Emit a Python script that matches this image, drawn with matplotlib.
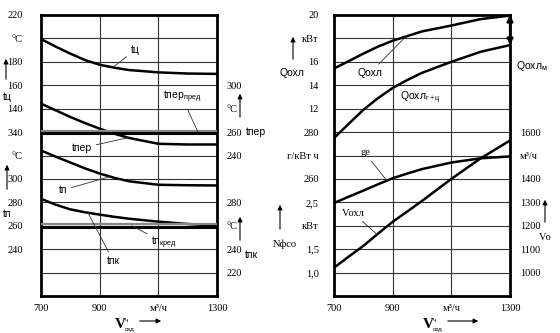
import numpy as np
import matplotlib
matplotlib.use('Agg')
import matplotlib.pyplot as plt

plt.rcParams['font.family'] = ['Liberation Sans', 'DejaVu Sans']
plt.rcParams['mathtext.fontset'] = 'custom'
plt.rcParams['mathtext.rm'] = 'Liberation Sans'
plt.rcParams['mathtext.it'] = 'Liberation Sans:italic'

# расход воздуха, м3/ч
V_air = [700, 750, 800, 850, 900, 950, 1000, 1100, 1200, 1300]

# левая панель, температуры, °C
t_c = [199.5, 193, 187, 181.5, 177.5, 175, 173, 171, 170, 169.7]         # tц
t_per = [284.3, 278.6, 272.9, 267.7, 262.9, 258.6, 255, 250, 249.4, 249.4]  # tпер
t_per_pred = 260
t_p = [324.3, 319, 314, 309, 304.6, 300.9, 298, 295, 294.6, 294.4]       # tп
t_pk = [283, 278, 274, 271.5, 269.5, 267.6, 266, 263.5, 261.5, 260]      # tпк
t_pk_pred = 260

# правая панель
Q_ohl = [15.43, 16.06, 16.7, 17.3, 17.8, 18.2, 18.6, 19.1, 19.65, 19.95]     # кВт
Q_ohl_gc = [9.49, 10.7, 11.9, 12.9, 13.77, 14.45, 15.06, 16.0, 16.86, 17.43]  # кВт
g_e = [249.7, 252.4, 255, 257.7, 260.3, 262.3, 264.2, 267, 268.8, 269.6]     # г/кВт ч
V_ohl = [1021, 1068, 1114, 1166, 1217, 1261, 1306, 1400, 1488, 1564]         # м3/ч

x_ticks = [700, 900, 1100, 1300]
x_labels = ['700', '900', 'м³/ч', '1300']

left_lab_L = ['220', '°C', '180', '160', '140', '340', '°C', '300', '280', '260', '240']
left_lab_R = {3: '300', 4: '°C', 5: '260', 6: '240', 8: '280', 9: '°C', 10: '240', 11: '220'}
right_lab_L = ['20', 'кВт', '16', '14', '12', '280', 'г/кВт ч', '260', '2,5', 'кВт', '1,5', '1,0']
right_lab_R = ['1600', 'м³/ч', '1400', '1300', '1200', '1100', '1000']

W, H = 560, 333
fig = plt.figure(figsize=(W / 100, H / 100), dpi=100)
LW = 1.8


def base_axes(x0):
    ax = fig.add_axes([x0 / W, (H - 296) / H, 176 / W, 281 / H])
    ax.set_xlim(700, 1300)
    ax.set_ylim(12, 0)
    for k in range(1, 12):
        ax.axhline(k, color='#333333', lw=0.8, zorder=1)
    for v in [900, 1100]:
        ax.axvline(v, color='#333333', lw=0.8, zorder=1)
    for s in ax.spines.values():
        s.set_linewidth(2.0)
    ax.set_xticks(x_ticks, x_labels)
    ax.tick_params(axis='x', length=0, pad=6)
    for lab in ax.get_xticklabels():
        lab.set_fontfamily('Liberation Serif')
        lab.set_fontsize(7.5)
    return ax


def scale_axes(ax, v_top, step):
    # отдельная шкала для кривой: значение v_top на верхней линии, шаг на клетку
    a = fig.add_axes(ax.get_position(), frameon=False)
    a.set_xlim(700, 1300)
    a.set_ylim(v_top - 12 * step, v_top)
    a.axis('off')
    return a


def set_labels(ax, labels, side, pad):
    ks = list(labels.keys()) if isinstance(labels, dict) else list(range(len(labels)))
    txt = list(labels.values()) if isinstance(labels, dict) else labels
    if side == 'right':
        t = ax.twinx()
        t.set_ylim(12, 0)
        for s in t.spines.values():
            s.set_visible(False)
        ax_ = t
    else:
        ax_ = ax
    ax_.set_yticks(ks, txt)
    ax_.tick_params(axis='y', length=0, pad=pad)
    for lab in ax_.get_yticklabels():
        lab.set_fontfamily('Liberation Serif')
        lab.set_fontsize(7.5)


def leader(a, text, X, Y, xv, fx, fy, **kw):
    yv = np.interp(xv, X, Y) if np.ndim(Y) else Y
    a.annotate(text, xy=(xv, yv), xytext=(fx, fy), textcoords='axes fraction',
               ha='center', va='center', fontsize=7.5,
               arrowprops=dict(arrowstyle='-', lw=0.6, color='#333333', shrinkA=1, shrinkB=0), **kw)


def pred_line(a, v):
    a.plot([700, 1300], [v + 1.3, v + 1.3], color='#888888', lw=1.6, solid_capstyle='butt')
    a.plot([700, 1300], [v - 0.9, v - 0.9], color='black', lw=2.2, solid_capstyle='butt')


# ---- левая панель ----
axL = base_axes(41)
set_labels(axL, left_lab_L, 'left', 13)
set_labels(axL, left_lab_R, 'right', 7)

a_c = scale_axes(axL, 220, 20)
a_c.plot(V_air, t_c, color='black', lw=LW)
leader(a_c, 'tц', V_air, t_c, 945, 0.534, 0.875)

a_per = scale_axes(axL, 360, 20)
a_per.plot(V_air, t_per, color='black', lw=LW)
pred_line(a_per, t_per_pred)
leader(a_per, 'tпер', V_air, t_per, 997, 0.233, 0.527)
leader(a_per, r'tпер$_{\mathrm{пред}}$', V_air, t_per_pred, 1235, 0.80, 0.708)

a_p = scale_axes(axL, 440, 20)
a_p.plot(V_air, t_p, color='black', lw=LW)
leader(a_p, 'tп', V_air, t_p, 935, 0.125, 0.377)

a_pk = scale_axes(axL, 440, 20)
a_pk.plot(V_air, t_pk, color='black', lw=LW)
pred_line(a_pk, t_pk_pred)
leader(a_pk, r'tп$_{\mathrm{кред}}$', V_air, t_pk_pred, 1010, 0.70, 0.189)
leader(a_pk, 'tпк', V_air, t_pk, 860, 0.41, 0.125)

# ---- правая панель ----
axR = base_axes(334)
set_labels(axR, right_lab_L, 'left', 11)
set_labels(axR, {k + 5: s for k, s in enumerate(right_lab_R)}, 'right', 7)

a_q = scale_axes(axR, 20, 2)
a_q.plot(V_air, Q_ohl, color='black', lw=LW)
a_q.plot(V_air, Q_ohl_gc, color='black', lw=LW)
leader(a_q, 'Qохл', V_air, Q_ohl, 945, 0.205, 0.794)
a_q.text(0.49, 0.705, r'Qохл$_{\mathrm{г+ц}}$', transform=a_q.transAxes, ha='center', va='center', fontsize=7.5)
a_q.annotate('', xy=(V_air[-1], 20), xytext=(V_air[-1], Q_ohl_gc[-1]),
             arrowprops=dict(arrowstyle='<|-|>', lw=1.6, color='black', mutation_scale=9,
                             shrinkA=0, shrinkB=0), annotation_clip=False)
a_q.text(1.035, 0.82, r'Qохл$_{\mathrm{м}}$', transform=a_q.transAxes, ha='left', va='center', fontsize=7.5)

a_g = scale_axes(axR, 330, 10)
a_g.plot(V_air, g_e, color='black', lw=LW)
leader(a_g, 'ge', V_air, g_e, 880, 0.176, 0.509, family='Liberation Serif')

a_v = scale_axes(axR, 2100, 100)
a_v.plot(V_air, V_ohl, color='black', lw=LW)
leader(a_v, 'Vохл', V_air, V_ohl, 847, 0.108, 0.295, family='Liberation Serif')


# ---- подписи осей со стрелками ----
def up_arrow(x, y0, y1):
    fig.add_artist(matplotlib.patches.FancyArrowPatch(
        (x / W, 1 - y0 / H), (x / W, 1 - y1 / H), transform=fig.transFigure,
        arrowstyle='-|>', mutation_scale=7, lw=0.8, color='black'))


def ftext(x, y, s, **kw):
    kw.setdefault('fontsize', 7.5)
    fig.text(x / W, 1 - y / H, s, ha=kw.pop('ha', 'center'), va='center', **kw)


up_arrow(6, 82, 56); ftext(7, 97, 'tц')
up_arrow(7, 192, 162); ftext(7, 214, 'tп')
up_arrow(240, 120, 91); ftext(256, 132, 'tпер')
up_arrow(240, 243, 214); ftext(251, 255, 'tпк')
up_arrow(293, 62, 34); ftext(292, 73, 'Qохл')
up_arrow(280, 232, 202); ftext(285, 244, 'Nфсо', family='Liberation Serif')
up_arrow(545, 225, 197); ftext(539, 237, 'Vо', ha='left', family='Liberation Serif')


def v_label(x, ax0, ax1):
    ftext(x - 2, 325, 'V', fontsize=11, fontweight='bold', family='Liberation Serif')
    ftext(x + 3, 320, 'ч', fontsize=4.5, ha='left')
    ftext(x + 3, 330, 'озд', fontsize=4.5, ha='left')
    fig.add_artist(matplotlib.patches.FancyArrowPatch(
        (ax0 / W, 1 - 321 / H), (ax1 / W, 1 - 321 / H), transform=fig.transFigure,
        arrowstyle='-|>', mutation_scale=7, lw=0.8, color='black'))


v_label(122, 137, 164)
v_label(430, 445, 481)

fig.savefig('out.png', dpi=100)
